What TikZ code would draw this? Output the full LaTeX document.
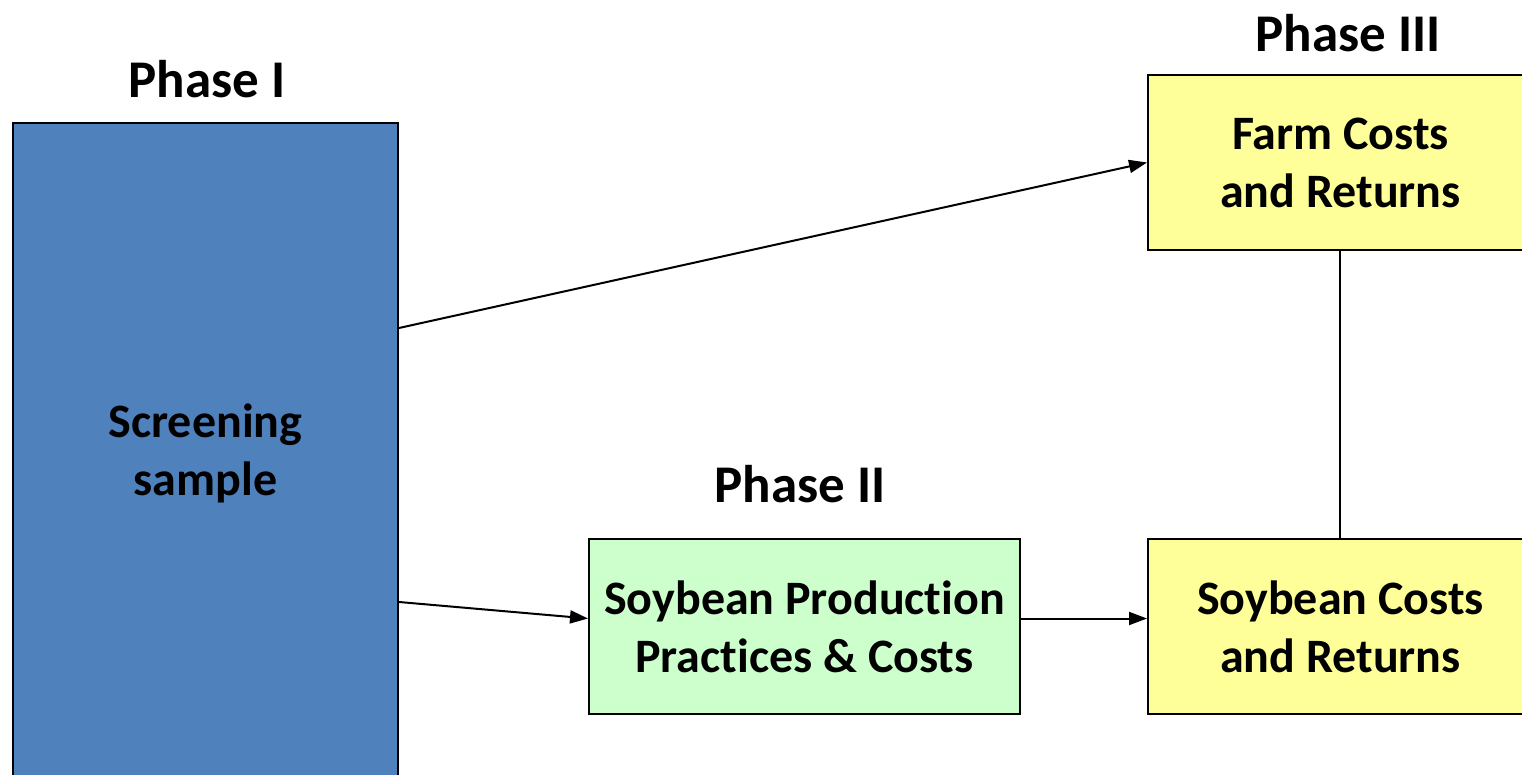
\documentclass[tikz,border=0pt]{standalone}
\usepackage{fontspec}
\setmainfont[Ligatures={NoCommon}]{Carlito}
\usetikzlibrary{arrows.meta}
\definecolor{boxblue}{HTML}{4F81BD}
\definecolor{boxyellow}{HTML}{FFFF99}
\definecolor{boxgreen}{HTML}{CCFFCC}
\begin{document}
\begin{tikzpicture}[x=1pt,y=-1pt,
  box/.style={draw=black, line width=2pt, align=center, font=\fontsize{48}{58}\selectfont\bfseries, inner sep=0pt},
  phase/.style={font=\fontsize{53}{60}\selectfont\bfseries, inner sep=0pt},
  conn/.style={line width=2pt, -{Triangle[length=18pt,width=13pt]}},
  plain/.style={line width=2pt}]
\useasboundingbox (0,0) rectangle (1522,775);
\clip (0,0) rectangle (1522,775);
\node[box, fill=boxblue, anchor=north west, minimum width=385pt, minimum height=660pt] (screen) at (12,122) {Screening\\sample};
\node[box, fill=boxyellow, anchor=north west, minimum width=385pt, minimum height=175pt] (farm) at (1147,74) {Farm Costs\\and Returns};
\node[box, fill=boxyellow, anchor=north west, minimum width=385pt, minimum height=175pt] (soycost) at (1147,538) {Soybean Costs\\and Returns};
\node[box, fill=boxgreen, anchor=north west, minimum width=431pt, minimum height=175pt] (soyprod) at (588,538) {Soybean Production\\Practices \& Costs};
\node[phase] (p1) at (207,79) {Phase I};
\node[phase] (p2) at (800,484) {Phase II};
\node[phase] (p3) at (1348,33) {Phase III};
\coordinate (s1) at ([yshift=-206pt]screen.north east);
\coordinate (s2) at ([yshift=-480pt]screen.north east);
\draw[conn] (s1) -- (farm.west);
\draw[conn] (s2) -- ([yshift=8pt]soyprod.west);
\draw[conn] ([yshift=8pt]soyprod.east) -- ([yshift=8pt]soycost.west);
\draw[plain] (farm.south -| 1340,0) -- (soycost.north -| 1340,0);
\end{tikzpicture}
\end{document}
